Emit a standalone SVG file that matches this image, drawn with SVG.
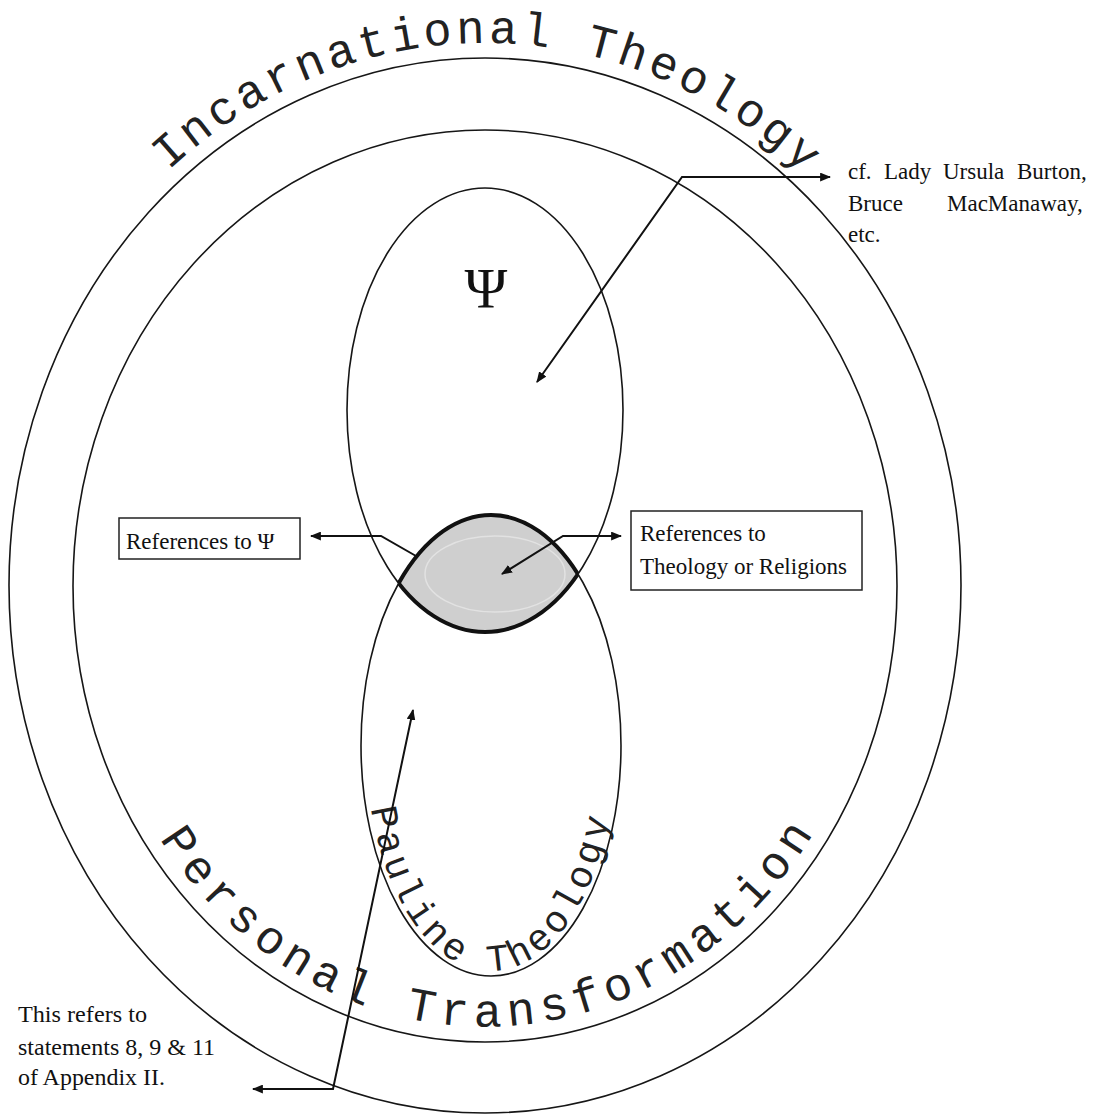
<svg xmlns="http://www.w3.org/2000/svg" width="1095" height="1116" viewBox="0 0 1095 1116">
<style>
.ring{fill:none;stroke:#161616;stroke-width:1.6}
.conn{fill:none;stroke:#111;stroke-width:2}
.mono{font-family:"Liberation Mono","Courier New",monospace;fill:#222}
.serif{font-family:"Liberation Serif","Times New Roman",serif;fill:#111;font-size:23px}
.box{fill:#fff;stroke:#222;stroke-width:1.5}
</style>
<defs>
<marker id="ah" viewBox="0 0 10 8" refX="9" refY="4" markerWidth="11" markerHeight="9" markerUnits="userSpaceOnUse" orient="auto-start-reverse">
<path d="M0,0 L10,4 L0,8 z" fill="#111"/>
</marker>
<clipPath id="clipU"><ellipse cx="485" cy="410" rx="138" ry="222"/></clipPath>
<clipPath id="clipL"><ellipse cx="491" cy="745.5" rx="130" ry="230.5"/></clipPath>
<path id="pInc" d="M -6 585.5 A 491 542.5 0 0 1 976 585.5"/>
<path id="pPer" d="M 88 586 A 397 441 0 0 0 882 586"/>
<path id="pPau" d="M 366 745.5 A 125 225.5 0 0 0 616 745.5"/>
</defs>
<rect width="1095" height="1116" fill="#fff"/>

<g id="outer-ring">
<ellipse class="ring" cx="485" cy="585.5" rx="476" ry="527.5"/>
<text class="mono" font-size="47"><textPath href="#pInc" startOffset="463" textLength="702" lengthAdjust="spacing">Incarnational Theology</textPath></text>
</g>

<g id="inner-ring">
<ellipse class="ring" cx="485" cy="586" rx="412" ry="456"/>
<text class="mono" font-size="47"><textPath href="#pPer" startOffset="266" textLength="790" lengthAdjust="spacing">Personal Transformation</textPath></text>
</g>

<g id="psi-ellipse">
<ellipse class="ring" cx="485" cy="410" rx="138" ry="222"/>
<text x="486" y="308" text-anchor="middle" font-family="Liberation Serif, serif" font-size="58" fill="#111">Ψ</text>
</g>

<g id="pauline-ellipse">
<ellipse class="ring" cx="491" cy="745.5" rx="130" ry="230.5"/>
<text class="mono" font-size="38"><textPath href="#pPau" startOffset="63" textLength="425" lengthAdjust="spacing">Pauline Theology</textPath></text>
</g>

<g id="overlap">
<ellipse cx="491" cy="745.5" rx="130" ry="230.5" clip-path="url(#clipU)" fill="#cfcfcf" stroke="#111" stroke-width="4"/>
<ellipse cx="485" cy="410" rx="138" ry="222" clip-path="url(#clipL)" fill="none" stroke="#111" stroke-width="4"/>
<ellipse cx="495" cy="574" rx="70" ry="38" fill="none" stroke="#e2e2e2" stroke-width="1.5"/>
</g>

<g id="box-psi">
<rect class="box" x="119" y="518" width="181" height="41"/>
<text class="serif" x="126" y="549">References to Ψ</text>
</g>

<g id="box-theology">
<rect class="box" x="631" y="511" width="231" height="79"/>
<text class="serif" x="640" y="541">References to</text>
<text class="serif" x="640" y="574">Theology or Religions</text>
</g>

<g id="note-burton">
<text class="serif" y="179"><tspan x="848">cf.</tspan><tspan x="884">Lady</tspan><tspan x="943">Ursula</tspan><tspan x="1017">Burton,</tspan></text>
<text class="serif" y="211"><tspan x="848">Bruce</tspan><tspan x="947">MacManaway,</tspan></text>
<text class="serif" x="848" y="242">etc.</text>
</g>

<g id="note-appendix">
<text class="serif" x="18" y="1022" textLength="129" lengthAdjust="spacingAndGlyphs">This refers to</text>
<text class="serif" x="18" y="1055" textLength="197" lengthAdjust="spacingAndGlyphs">statements 8, 9 &amp; 11</text>
<text class="serif" x="18" y="1085" textLength="147" lengthAdjust="spacingAndGlyphs">of Appendix II.</text>
</g>

<g id="connectors">
<polyline class="conn" points="537,382 682,177 830,177" marker-start="url(#ah)" marker-end="url(#ah)"/>
<polyline class="conn" points="311,536 381,536 416,556" marker-start="url(#ah)"/>
<polyline class="conn" points="621,536 563,536 502,574" marker-start="url(#ah)" marker-end="url(#ah)"/>
<polyline class="conn" points="413,710 333,1089 253,1089" marker-start="url(#ah)" marker-end="url(#ah)"/>
</g>
</svg>
